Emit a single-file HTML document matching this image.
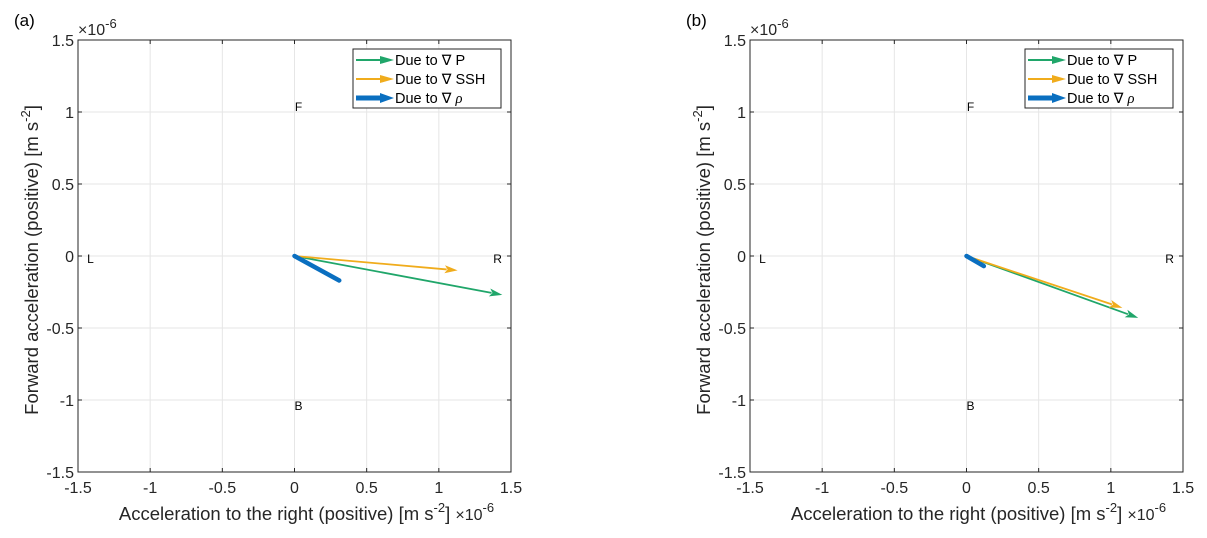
<!DOCTYPE html>
<html><head><meta charset="utf-8"><style>
body{margin:0;background:#fff}
svg{display:block;font-family:"Liberation Sans",Arial,sans-serif}
</style></head><body>
<svg id="chart" width="1207" height="538" viewBox="0 0 1207 538" xmlns="http://www.w3.org/2000/svg"></svg>
<script>
const xTicks=[-1.5,-1,-0.5,0,0.5,1,1.5];
const yTicks=[-1.5,-1,-0.5,0,0.5,1,1.5];
const tickLabels=["-1.5","-1","-0.5","0","0.5","1","1.5"];
const seriesNames=["Due to \u2207 P","Due to \u2207 SSH","Due to \u2207 \u03c1"];
const seriesColors=["#20a66a","#f0ac1c","#0a6fc0"];
const panelA_x=[1.44,1.13,0.31];
const panelA_y=[-0.27,-0.10,-0.17];
const panelB_x=[1.19,1.08,0.12];
const panelB_y=[-0.43,-0.36,-0.07];
const panelTitles=["(a)","(b)"];

const NS="http://www.w3.org/2000/svg";
const svg=document.getElementById('chart');
function mk(tag,attrs,parent,text){const e=document.createElementNS(NS,tag);for(const k in attrs)e.setAttribute(k,attrs[k]);if(text!==undefined)e.textContent=text;(parent||svg).appendChild(e);return e;}

function panel(ox,title,xs,ys,idx){
  const L=ox,R=ox+433,T=40,B=472;
  const sx=v=>L+(v+1.5)/3*(R-L);
  const sy=v=>B-(v+1.5)/3*(B-T);
  const g=mk('g',{});
  
  
  const t=mk('text',{x:ox-64,y:26,'font-size':17,fill:'#000'},g,title);
  
  xTicks.forEach((v,i)=>{
    const l=mk('line',{x1:sx(v),x2:sx(v),y1:T,y2:B,stroke:'#e6e6e6','stroke-width':1},g);
    
    mk('line',{x1:sx(v),x2:sx(v),y1:B,y2:B-4,stroke:'#262626'},g);
    mk('line',{x1:sx(v),x2:sx(v),y1:T,y2:T+4,stroke:'#262626'},g);
    const tl=mk('text',{x:sx(v),y:B+21,'font-size':16,'text-anchor':'middle',fill:'#262626'},g,tickLabels[i]);
    
  });
  yTicks.forEach((v,i)=>{
    const l=mk('line',{x1:L,x2:R,y1:sy(v),y2:sy(v),stroke:'#e6e6e6','stroke-width':1},g);
    
    mk('line',{x1:L,x2:L+4,y1:sy(v),y2:sy(v),stroke:'#262626'},g);
    mk('line',{x1:R,x2:R-4,y1:sy(v),y2:sy(v),stroke:'#262626'},g);
    const tl=mk('text',{x:L-4,y:sy(v)+6,'font-size':16,'text-anchor':'end',fill:'#262626'},g,tickLabels[i]);
    
  });
  const box=mk('rect',{x:L,y:T,width:R-L,height:B-T,fill:'none',stroke:'#262626','stroke-width':1},g);
  
  const ey=mk('text',{x:L,y:T-5,'font-size':16,fill:'#262626'},g);
  
  ey.innerHTML='\u00d710<tspan dy="-7" font-size="13">-6</tspan>';
  [['F',0,1,4,-1],['B',0,-1,4,10],['L',-1.4,0,-2,7],['R',1.4,0,1,7]].forEach(d=>{
    const e=mk('text',{x:sx(d[1])+d[3],y:sy(d[2])+d[4],'font-size':12,fill:'#000','text-anchor':'middle'},g,d[0]);
    
  });
  const widths=[1.8,1.8,4.5];
  [0,1,2].forEach(i=>{
    const x0=sx(0),y0=sy(0),x1=sx(xs[i]),y1=sy(ys[i]);
    const ang=Math.atan2(y1-y0,x1-x0);
    const a=mk('g',{},g);
    
    
    if(i<2){
      const hl=13,hw=4;
      const bx=x1-hl*Math.cos(ang),by=y1-hl*Math.sin(ang);
      mk('line',{x1:x0,y1:y0,x2:bx+2*Math.cos(ang),y2:by+2*Math.sin(ang),stroke:seriesColors[i],'stroke-width':widths[i]},a);
      const px=-Math.sin(ang)*hw,py=Math.cos(ang)*hw;
      mk('polygon',{points:`${x1},${y1} ${bx+px},${by+py} ${bx+3*Math.cos(ang)},${by+3*Math.sin(ang)} ${bx-px},${by-py}`,fill:seriesColors[i]},a);
    }else{
      mk('line',{x1:x0,y1:y0,x2:x1,y2:y1,stroke:seriesColors[i],'stroke-width':widths[i],'stroke-linecap':'round'},a);
    }
  });
  const lg=mk('g',{},g);
  
  const lx=R-158,ly=T+9;
  mk('rect',{x:lx,y:ly,width:148,height:59,fill:'#fff',stroke:'#262626','stroke-width':1},lg);
  seriesNames.forEach((n,i)=>{
    const yy=ly+11+i*19;
    const e=mk('g',{},lg);
    
    const w=i==2?5:2;
    mk('line',{x1:lx+3,x2:lx+28,y1:yy,y2:yy,stroke:seriesColors[i],'stroke-width':w},e);
    mk('polygon',{points:`${lx+41},${yy} ${lx+27},${yy-(i==2?5:4)} ${lx+27},${yy+(i==2?5:4)}`,fill:seriesColors[i]},e);
    const tx=mk('text',{x:lx+42,y:yy+5,'font-size':14.5,fill:'#000'},e,n);
    if(i==2){tx.textContent='Due to \u2207 ';mk('tspan',{'font-style':'italic','font-family':'Liberation Serif,serif'},tx,'\u03c1');}
  });
  const xl=mk('text',{x:(L+R)/2+12,y:B+48,'font-size':18.5,'text-anchor':'middle',fill:'#262626'},g);
  
  xl.innerHTML='Acceleration to the right (positive) [m s<tspan dy="-8" font-size="13">-2</tspan><tspan dy="8">] </tspan><tspan font-size="16">\u00d710</tspan><tspan dy="-8" font-size="13">-6</tspan>';
  const yl=mk('text',{x:0,y:0,'font-size':18.5,'text-anchor':'middle',fill:'#262626',transform:`translate(${L-40},${(T+B)/2+4}) rotate(-90)`},g);
  
  yl.innerHTML='Forward acceleration (positive) [m s<tspan dy="-8" font-size="13">-2</tspan><tspan dy="8">]</tspan>';
}
panel(78,panelTitles[0],panelA_x,panelA_y,'a');
panel(750,panelTitles[1],panelB_x,panelB_y,'b');
</script>
</body></html>
